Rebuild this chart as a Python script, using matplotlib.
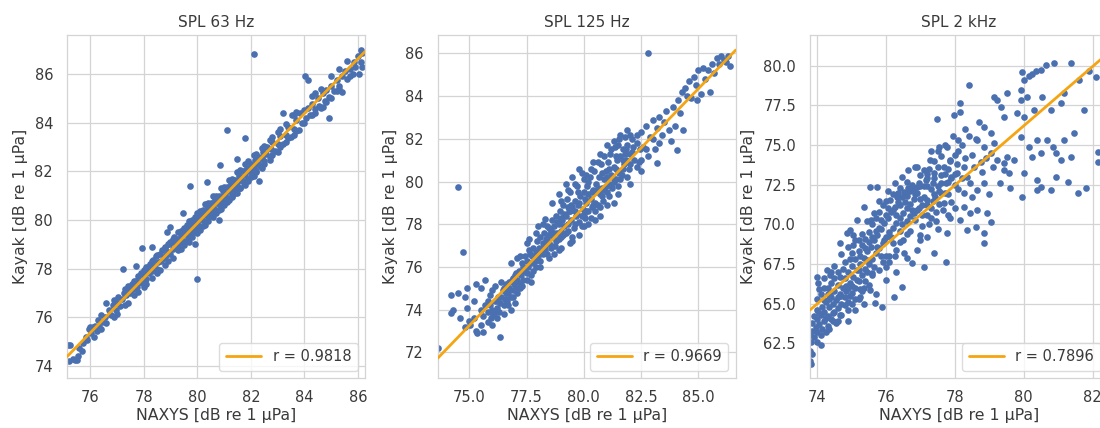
import numpy as np
import matplotlib
matplotlib.use("Agg")
import matplotlib.pyplot as plt
import seaborn as sns
from matplotlib.lines import Line2D

# --- data -------------------------------------------------------------------
titles = ["SPL 63 Hz", "SPL 125 Hz", "SPL 2 kHz"]
r_values = [0.9818, 0.9669, 0.7896]
fit_slope = [1.128, 1.109, 1.87]
fit_intercept = [-10.38, -9.92, -73.39]

pts_63 = [
    (75.18, 74.85), (75.22, 74.2), (75.25, 74.86), (75.35, 74.3), (75.45, 74.25), (75.5, 74.25),
    (75.55, 74.4), (75.6, 74.75), (75.7, 74.6), (75.75, 74.95), (75.85, 75.2), (75.9, 75.05),
    (75.95, 75.5), (76.0, 75.6), (76.05, 75.35), (76.1, 75.55), (76.12, 75.6), (76.15, 75.2),
    (76.2, 75.65), (76.25, 75.45), (76.3, 75.9), (76.35, 75.6), (76.45, 75.8), (76.55, 76.0),
    (76.6, 75.75), (76.7, 76.3), (76.8, 76.1), (76.85, 76.5), (76.95, 76.3), (77.0, 76.6),
    (77.1, 76.45), (77.2, 76.75), (77.24, 77.97), (77.25, 77.0), (77.35, 76.9), (77.45, 77.2),
    (77.5, 77.0), (77.55, 77.35), (77.6, 77.15), (77.7, 77.5), (77.75, 77.25), (77.8, 77.7),
    (77.85, 77.45), (77.9, 77.8), (77.93, 78.86), (77.95, 77.4), (78.0, 77.65), (78.05, 77.9),
    (78.1, 77.55), (78.15, 78.05), (78.2, 77.8), (78.25, 78.2), (78.3, 77.9), (78.35, 78.35),
    (78.4, 78.1), (78.45, 78.5), (78.5, 78.0), (78.55, 78.25), (78.6, 78.6), (78.65, 78.3),
    (78.7, 78.75), (78.75, 78.45), (78.8, 78.9), (78.85, 78.55), (78.86, 79.49), (78.9, 78.7),
    (78.95, 79.0), (79.0, 78.6), (79.05, 79.1), (79.1, 78.8), (79.15, 79.3), (79.2, 78.9),
    (79.25, 79.2), (79.3, 79.5), (79.35, 79.05), (79.4, 79.35), (79.45, 79.6), (79.48, 80.27),
    (79.5, 79.15), (79.55, 79.45), (79.6, 79.8), (79.65, 79.3), (79.7, 79.65), (79.73, 81.4),
    (79.75, 79.9), (79.8, 79.5), (79.85, 79.8), (79.9, 80.1), (79.95, 79.6), (80.0, 77.57),
    (80.0, 79.9), (80.05, 80.2), (80.1, 79.75), (80.15, 80.05), (80.2, 80.4), (80.25, 79.95),
    (80.3, 80.25), (80.35, 81.57), (80.35, 80.6), (80.4, 80.1), (80.45, 80.45), (80.5, 80.7),
    (80.55, 80.3), (80.6, 80.55), (80.65, 80.85), (80.7, 80.4), (80.75, 80.7), (80.8, 81.0),
    (80.85, 82.26), (80.85, 80.6), (80.9, 80.9), (80.95, 81.2), (81.0, 80.75), (81.05, 81.05),
    (81.1, 83.7), (81.1, 81.35), (81.15, 80.9), (81.2, 81.2), (81.25, 81.5), (81.3, 81.0),
    (81.35, 81.35), (81.4, 81.65), (81.45, 81.2), (81.5, 81.5), (81.55, 81.8), (81.6, 81.3),
    (81.65, 81.65), (81.7, 82.0), (81.75, 81.5), (81.78, 83.36), (81.8, 81.85), (81.85, 82.15),
    (81.9, 81.7), (81.95, 82.0), (82.0, 82.3), (82.05, 81.85), (82.1, 82.15), (82.13, 86.82),
    (82.15, 82.45), (82.2, 82.0), (82.25, 82.3), (82.3, 82.6), (82.35, 82.2), (82.4, 82.5),
    (82.45, 82.8), (82.5, 82.4), (82.55, 82.7), (82.6, 83.0), (82.7, 82.6), (82.75, 82.9),
    (82.8, 83.2), (82.9, 82.85), (83.0, 83.1), (83.1, 83.45), (83.2, 83.1), (83.3, 83.5),
    (83.4, 83.8), (83.5, 83.4), (83.55, 84.3), (83.6, 83.75), (83.7, 84.1), (83.8, 83.7),
    (83.85, 84.4), (83.9, 84.0), (84.0, 84.5), (84.02, 85.9), (84.05, 84.2), (84.15, 85.75),
    (84.15, 84.6), (84.2, 84.3), (84.3, 84.75), (84.4, 84.55), (84.5, 85.0), (84.55, 84.7),
    (84.7, 84.66), (84.7, 85.2), (84.75, 84.9), (84.8, 85.35), (84.9, 85.05), (85.0, 85.5),
    (85.1, 85.3), (85.2, 85.75), (85.3, 85.5), (85.4, 85.27), (85.4, 85.9), (85.5, 86.1),
    (85.6, 85.8), (85.7, 86.2), (85.8, 86.0), (85.85, 86.5), (85.9, 86.3), (86.0, 86.75),
    (86.05, 86.0), (86.1, 86.5), (86.15, 86.85),
    (79.2, 79.0), (79.4, 79.1), (79.6, 79.5), (79.8, 79.7), (80.0, 80.0), (80.2, 80.2),
    (80.4, 80.4), (80.6, 80.7), (80.8, 80.75), (81.0, 81.0), (81.2, 81.35), (81.4, 81.45),
    (81.6, 81.7), (81.8, 82.0), (82.0, 82.1), (82.2, 82.35), (82.4, 82.55), (80.1, 80.15),
    (80.5, 80.25), (80.9, 80.65), (81.3, 81.15), (81.7, 81.6), (82.1, 82.0), (79.9, 79.75),
    (76.4, 75.5), (76.4, 76.1), (76.9, 76.0), (76.9, 76.7), (77.4, 76.6), (77.4, 77.3),
    (77.65, 76.9), (77.65, 77.5), (78.1, 78.05), (78.1, 77.35), (78.5, 78.55), (78.5, 77.8),
    (78.8, 78.15), (78.8, 78.85), (79.1, 79.2), (79.1, 78.45), (79.4, 79.55), (79.4, 78.8),
    (79.7, 79.1), (79.7, 79.95), (80.0, 80.3), (80.0, 79.45), (80.3, 80.65), (80.3, 79.8),
    (80.6, 80.1), (80.6, 81.0), (80.9, 81.3), (80.9, 80.45), (81.2, 80.8), (81.2, 81.65),
    (81.5, 81.95), (81.5, 81.1), (81.8, 81.45), (81.8, 82.3), (82.1, 82.65), (82.1, 81.8),
    (82.4, 82.15), (82.4, 82.95), (82.7, 83.3), (82.7, 82.45), (83.0, 83.6), (83.0, 82.8),
    (83.3, 83.95), (83.3, 83.2), (83.6, 84.3), (83.6, 83.5), (84.3, 85.1), (84.3, 84.3),
    (84.6, 85.4), (84.6, 84.6), (85.0, 85.9), (85.0, 85.0), (85.3, 86.2), (85.3, 85.4),
    (85.7, 85.9), (86.1, 87.0), (86.15, 86.3),
    (77.0, 76.15), (77.05, 76.85), (77.3, 76.5), (77.3, 77.15), (77.8, 77.05), (78.0, 77.25),
    (78.0, 77.95), (78.3, 77.6), (78.3, 78.3), (78.6, 77.95), (78.9, 78.3), (78.9, 79.0),
    (79.0, 79.1), (79.3, 78.75), (79.3, 78.9), (79.5, 79.65), (79.5, 78.95), (79.8, 79.3),
    (79.8, 80.0), (80.1, 80.35), (80.1, 79.6), (80.2, 79.75), (80.4, 80.7), (80.4, 79.95),
    (80.7, 81.0), (80.7, 80.3), (80.8, 80.4), (81.0, 81.35), (81.0, 80.6), (81.1, 80.75),
    (81.3, 81.7), (81.3, 80.95), (81.4, 81.1), (81.6, 82.05), (81.6, 81.3), (81.9, 82.4),
    (81.9, 81.6), (82.0, 81.75), (82.2, 82.7), (82.2, 81.95), (82.5, 83.05), (82.5, 82.3),
    (82.8, 82.65), (82.8, 83.4), (83.1, 83.0), (83.1, 83.75), (83.4, 83.35), (83.7, 83.65),
    (83.7, 84.45), (84.0, 84.0), (84.4, 85.2), (84.4, 84.4), (84.8, 84.85), (85.2, 85.3),
    (85.6, 86.55), (78.3, 78.9), (79.0, 79.7), (79.9, 79.0), (80.8, 80.0), (81.5, 82.5),
    (82.3, 81.6), (83.2, 84.4), (84.9, 84.2), (77.7, 78.1), (76.6, 76.6),
]

pts_125 = [
    (73.65, 72.2), (74.2, 74.7), (74.2, 73.85), (74.3, 74.0), (74.5, 74.8), (74.52, 79.75),
    (74.74, 76.68), (74.8, 74.6), (74.9, 75.0), (74.9, 74.1), (75.0, 73.45), (75.05, 73.3),
    (75.2, 74.4), (75.3, 73.0), (75.35, 72.9), (75.5, 73.3), (75.6, 72.95), (75.6, 73.7),
    (75.7, 74.2), (75.8, 73.4), (75.8, 73.9), (75.9, 74.7), (75.95, 73.6), (76.0, 74.9),
    (76.0, 74.0), (76.05, 73.75), (76.1, 74.4), (76.15, 73.9), (76.2, 74.1), (76.2, 74.4),
    (76.25, 74.6), (76.34, 72.73), (76.3, 73.9), (76.35, 74.3), (76.4, 74.6), (76.45, 74.9),
    (76.5, 74.2), (76.55, 74.5), (76.6, 75.2), (76.6, 74.8), (76.65, 74.4), (76.7, 74.8),
    (76.75, 75.0), (76.8, 74.6), (76.85, 75.4), (76.9, 74.9), (76.95, 75.2), (77.0, 75.6),
    (77.0, 74.3), (77.0, 75.3), (77.05, 75.0), (77.1, 75.4), (77.15, 75.8), (77.2, 75.2),
    (77.25, 75.6), (77.3, 76.2), (77.35, 75.4), (77.4, 75.9), (77.4, 75.8), (77.45, 76.5),
    (77.5, 75.7), (77.55, 76.0), (77.6, 76.8), (77.65, 76.2), (77.7, 75.6), (77.75, 76.5),
    (77.8, 76.9), (77.8, 76.2), (77.85, 76.3), (77.9, 76.7), (77.95, 77.2), (78.0, 76.5),
    (78.05, 76.9), (78.1, 77.4), (78.15, 76.7), (78.2, 77.1), (78.2, 76.6), (78.25, 77.6),
    (78.3, 77.0), (78.3, 78.25), (78.35, 77.3), (78.4, 76.6), (78.4, 77.9), (78.45, 77.5),
    (78.5, 77.1), (78.55, 77.7), (78.6, 78.2), (78.6, 77.0), (78.65, 77.4), (78.7, 77.9),
    (78.75, 77.0), (78.8, 78.4), (78.8, 77.2), (78.85, 77.6), (78.9, 78.0), (78.95, 78.6),
    (79.0, 77.7), (79.0, 78.2), (79.0, 78.3), (79.05, 78.2), (79.1, 78.9), (79.15, 77.9),
    (79.2, 78.4), (79.2, 77.6), (79.25, 79.2), (79.3, 78.0), (79.35, 78.6), (79.4, 79.5),
    (79.4, 78.6), (79.45, 78.2), (79.5, 78.8), (79.55, 77.8), (79.6, 79.1), (79.6, 78.0),
    (79.65, 78.4), (79.7, 79.8), (79.75, 78.9), (79.8, 78.1), (79.8, 79.0), (79.85, 79.3),
    (79.9, 80.4), (79.95, 78.7), (80.0, 79.5), (80.0, 78.5), (80.05, 78.3), (80.1, 79.0),
    (80.15, 79.8), (80.2, 78.6), (80.2, 79.4), (80.25, 80.2), (80.3, 79.2), (80.35, 78.8),
    (80.4, 79.6), (80.4, 78.9), (80.45, 80.5), (80.5, 79.0), (80.55, 79.9), (80.6, 78.9),
    (80.6, 79.7), (80.65, 80.2), (80.7, 79.4), (80.75, 80.8), (80.8, 79.7), (80.8, 79.3),
    (80.85, 79.1), (80.9, 80.1), (80.95, 80.5), (81.0, 79.5), (81.0, 80.2), (81.05, 80.9),
    (81.1, 79.9), (81.15, 81.3), (81.2, 80.3), (81.2, 79.8), (81.25, 79.7), (81.3, 80.7),
    (81.35, 81.6), (81.4, 80.1), (81.4, 80.6), (81.45, 81.0), (81.5, 80.5), (81.55, 82.0),
    (81.6, 81.2), (81.6, 80.1), (81.65, 80.3), (81.7, 81.5), (81.75, 80.8), (81.8, 82.1),
    (81.8, 80.9), (81.85, 81.0), (81.9, 81.7), (81.95, 80.6), (82.0, 81.3), (82.1, 82.0),
    (82.2, 81.0), (82.3, 81.8), (82.4, 80.9), (82.5, 82.3), (82.6, 81.6), (82.7, 82.6),
    (82.8, 81.2), (82.82, 86.0), (82.9, 82.1), (83.0, 82.9), (83.1, 81.5), (83.18, 80.85),
    (83.2, 82.5), (83.3, 83.0), (83.4, 82.2), (83.5, 82.8), (83.6, 83.3), (83.7, 82.4),
    (83.8, 81.9), (83.9, 83.5), (84.0, 82.6), (84.06, 81.47), (84.1, 83.8), (84.2, 83.2),
    (84.3, 84.2), (84.35, 82.4), (84.4, 84.4), (84.5, 84.0), (84.6, 84.7), (84.7, 83.9),
    (84.8, 84.9), (84.9, 84.5), (84.93, 83.8), (85.0, 85.2), (85.1, 84.1), (85.2, 85.3),
    (85.3, 84.8), (85.4, 85.2), (85.5, 84.2), (85.6, 85.5), (85.7, 85.1), (85.8, 85.8),
    (85.9, 85.5), (86.0, 85.9), (86.1, 85.7), (86.2, 85.6), (86.3, 85.9), (86.4, 85.4),
    (76.5, 75.0), (76.7, 74.2), (76.9, 75.5), (77.1, 74.8), (77.3, 75.1), (77.5, 76.3),
    (77.7, 75.3), (77.9, 76.0), (78.1, 76.3), (78.3, 76.8), (78.5, 77.8), (78.7, 76.6),
    (78.9, 77.3), (79.1, 77.5), (79.3, 78.8), (79.5, 77.4), (79.7, 78.5), (79.9, 77.9),
    (80.1, 78.6), (80.3, 78.3), (80.5, 79.5), (80.7, 78.8), (80.9, 79.6), (81.1, 79.3),
    (81.3, 80.0), (81.5, 79.8), (81.7, 80.6), (81.9, 80.2), (82.1, 81.4), (82.3, 80.7),
    (82.5, 81.0), (82.7, 81.5), (83.0, 82.0), (83.3, 81.8), (79.0, 79.1), (79.3, 79.6),
    (79.6, 79.9), (80.0, 80.1), (80.3, 80.6), (80.6, 80.9), (80.9, 81.2), (81.2, 81.5),
    (81.5, 81.7), (81.8, 81.3), (82.0, 82.2), (78.0, 77.9), (77.6, 77.3), (77.2, 76.5),
    (76.8, 76.2), (76.4, 75.3), (76.1, 75.1), (75.8, 74.4), (75.5, 74.0), (75.2, 73.6),
    (74.8, 73.2), (74.6, 73.6), (75.5, 75.0), (75.3, 75.2), (75.7, 75.4), (80.2, 78.0),
    (80.7, 78.4), (81.3, 79.0), (79.4, 77.1), (78.9, 76.8), (79.8, 77.5),
    (76.6, 74.5), (76.75, 75.3), (76.9, 74.6), (77.05, 75.7), (77.2, 75.0), (77.35, 76.0),
    (77.5, 75.4), (77.65, 76.6), (77.8, 75.8), (77.95, 76.6), (78.1, 76.0), (78.25, 77.0),
    (78.4, 77.3), (78.55, 76.9), (78.7, 77.6), (78.85, 78.1), (79.0, 77.4), (79.15, 78.5),
    (79.3, 77.7), (79.45, 78.9), (79.6, 78.6), (79.75, 79.5), (79.9, 78.4), (80.05, 79.2),
    (80.2, 80.0), (80.35, 79.5), (80.5, 78.6), (80.65, 79.5), (80.8, 80.4), (80.95, 79.8),
    (81.1, 80.6), (81.25, 80.2), (81.4, 81.2), (81.55, 80.4), (81.7, 81.0), (81.85, 81.5),
    (82.0, 80.8), (82.15, 81.6), (82.3, 82.2), (82.45, 81.5), (79.2, 79.9), (79.5, 80.2),
    (79.8, 80.6), (80.1, 80.3), (78.6, 79.0), (78.9, 79.4), (80.4, 80.9), (80.7, 81.3),
    (81.0, 81.7), (81.3, 81.9), (81.6, 82.2), (81.9, 82.4), (78.2, 78.0), (77.9, 77.6),
    (77.5, 77.1), (77.1, 76.4), (80.0, 77.9), (80.5, 78.2), (81.0, 78.9), (81.5, 79.4),
    (82.0, 79.9), (82.5, 80.5), (79.5, 77.2), (79.0, 76.9), (78.5, 76.4), (76.0, 73.3),
    (76.2, 73.6), (75.9, 74.2), (76.5, 73.8), (76.8, 74.0),
]

pts_2k = [
    (79.96, 79.62), (80.01, 79.1), (80.16, 79.35), (80.25, 79.5), (80.35, 79.68), (80.5, 79.73),
    (80.64, 80.04), (80.88, 80.2), (81.37, 80.15), (81.61, 79.1), (79.91, 78.47), (80.11, 78.05),
    (79.91, 77.84), (81.08, 77.63), (81.18, 78.26), (81.76, 77.2), (80.54, 78.05), (80.79, 77.2),
    (80.3, 77.2), (80.01, 76.78), (79.82, 76.99), (79.23, 77.84), (79.13, 78.05), (79.33, 77.41),
    (79.52, 78.26), (79.43, 76.78), (78.41, 78.78), (78.16, 77.63), (78.16, 77.1), (77.97, 76.89),
    (78.84, 76.15), (78.7, 76.47), (79.04, 75.73), (78.65, 75.31), (78.84, 74.89), (79.13, 75.1),
    (79.04, 74.47), (79.23, 74.05), (79.43, 73.84), (79.52, 74.26), (79.43, 73.42), (79.57, 73.21),
    (79.72, 74.05), (79.91, 75.52), (80.16, 74.89), (80.4, 75.31), (80.5, 74.47), (80.69, 75.31),
    (80.84, 74.89), (80.93, 74.47), (81.08, 74.05), (81.18, 75.31), (81.37, 74.26), (81.47, 75.73),
    (80.25, 74.26), (80.01, 73.21), (79.96, 71.74), (80.4, 72.79), (80.5, 72.37), (80.79, 72.16),
    (80.93, 73.0), (81.28, 72.69), (81.57, 71.95), (81.81, 72.27), (82.15, 73.95), (82.15, 74.58),
    (80.4, 72.16), (81.9, 79.7), (82.1, 79.3),
    (77.48, 76.62), (77.77, 74.89), (77.53, 74.89), (76.9, 73.63), (77.19, 71.53), (77.43, 71.74),
    (77.68, 71.32), (77.87, 70.37), (78.26, 71.11), (78.45, 70.69), (78.65, 70.9), (78.94, 70.69),
    (79.04, 70.16), (78.84, 69.43), (78.6, 69.85), (78.36, 69.64), (78.16, 70.27), (77.77, 69.43),
    (77.73, 67.64), (78.26, 71.95), (78.45, 72.58), (78.65, 72.16), (78.84, 72.58), (78.07, 73.21),
    (78.26, 73.63), (77.87, 74.05), (77.68, 73.63), (77.39, 73.21), (77.29, 74.05), (77.1, 73.42),
    (78.84, 68.8), (76.46, 66.07), (76.22, 65.44), (75.88, 64.8), (75.68, 65.01), (76.75, 67.54),
    (76.51, 68.17), (77.39, 68.17), (77.1, 67.33), (76.9, 72.37), (76.51, 72.06), (76.32, 71.74),
    (76.12, 71.53), (75.73, 72.37), (75.54, 72.37), (75.35, 71.11), (75.15, 70.27), (74.96, 69.64),
    (74.86, 69.43), (74.66, 68.8), (74.28, 67.12), (74.03, 66.28), (74.37, 65.65), (75.25, 65.44),
    (75.54, 65.86), (75.44, 67.75), (74.37, 66.8), (77.0, 69.0), (77.3, 70.4), (77.6, 72.6),
    (77.9, 72.9), (78.1, 72.2), (77.2, 72.9), (76.9, 70.9),
    (73.8, 61.4), (73.8, 62.0), (73.82, 62.6), (73.85, 63.3), (73.85, 63.8), (73.9, 62.9),
    (73.9, 64.2), (73.95, 63.5), (74.0, 64.0), (74.0, 63.2), (74.0, 64.6), (74.05, 63.7),
    (74.1, 64.3), (74.1, 63.0), (74.15, 64.8), (74.2, 63.9), (74.2, 64.5), (74.25, 65.1),
    (74.3, 64.2), (74.3, 63.6), (74.35, 64.8), (74.4, 65.4), (74.4, 64.0), (74.45, 65.0),
    (74.5, 64.5), (74.5, 65.8), (74.55, 65.2), (74.6, 64.7), (74.6, 66.2), (74.65, 65.6),
    (74.7, 65.0), (74.75, 66.0), (74.8, 65.4), (74.8, 66.6), (74.85, 65.8), (74.9, 65.1),
    (74.9, 67.0), (74.95, 66.3), (75.0, 65.7), (75.0, 67.4), (75.05, 66.7), (75.1, 66.0),
    (75.1, 67.8), (75.15, 67.1), (75.2, 66.4), (75.2, 68.3), (75.25, 67.5), (75.3, 66.8),
    (75.3, 68.7), (75.35, 67.9), (75.4, 67.2), (75.4, 69.1), (75.45, 68.3), (75.5, 67.5),
    (75.5, 69.5), (75.55, 68.6), (75.6, 67.8), (75.6, 70.0), (75.65, 69.0), (75.7, 68.2),
    (75.7, 70.4), (75.75, 69.3), (75.8, 68.5), (75.8, 70.8), (75.85, 69.7), (75.9, 68.8),
    (75.9, 71.2), (75.95, 70.1), (76.0, 69.2), (76.0, 71.5), (76.05, 70.4), (76.1, 69.5),
    (76.1, 67.6), (76.15, 70.8), (76.2, 69.8), (76.2, 71.9), (76.25, 71.1), (76.3, 70.1),
    (76.3, 68.4), (76.35, 71.4), (76.4, 70.4), (76.4, 72.3), (76.45, 71.7), (76.5, 70.7),
    (76.5, 69.0), (76.55, 72.0), (76.6, 71.0), (76.6, 72.7), (76.65, 72.3), (76.7, 71.3),
    (76.7, 69.6), (76.75, 72.5), (76.8, 71.6), (76.85, 70.3), (76.9, 72.0), (76.95, 71.0),
    (77.0, 72.4), (77.05, 70.6), (77.1, 71.7), (77.15, 72.8), (77.2, 71.2), (77.25, 70.0),
    (77.3, 72.2), (77.35, 71.5), (77.4, 72.9), (77.45, 70.8), (77.5, 72.4), (77.55, 71.3),
    (77.6, 73.1), (77.7, 72.0), (77.8, 72.7), (77.9, 71.4), (78.0, 73.2),
    (74.3, 65.6), (74.6, 63.9), (74.9, 64.6), (75.2, 65.3), (75.5, 66.2), (75.8, 67.1),
    (76.1, 68.0), (76.4, 68.9), (76.7, 70.5), (77.0, 69.3), (74.2, 66.6), (73.98, 66.7),
    (73.82, 61.2), (73.85, 61.8), (73.8, 63.0), (74.1, 62.4), (74.0, 62.6), (74.25, 63.2),
    (74.45, 63.9), (74.7, 64.3), (75.0, 65.0), (75.3, 65.8), (75.6, 66.8), (75.9, 67.6),
    (74.0, 65.3), (74.05, 64.4), (74.1, 65.6), (74.2, 65.2), (74.25, 64.1), (74.3, 66.0),
    (74.4, 66.3), (74.45, 64.4), (74.6, 65.4), (74.6, 67.0), (74.65, 64.3), (74.8, 67.6),
    (74.8, 64.9), (74.85, 66.1), (75.0, 68.2), (75.0, 66.1), (75.05, 69.3), (75.2, 69.0),
    (75.2, 67.1), (75.25, 65.9), (75.4, 68.5), (75.4, 66.4), (75.45, 70.2), (75.6, 69.2),
    (75.6, 66.9), (75.65, 70.7), (75.8, 69.8), (75.8, 71.5), (75.85, 68.0), (76.0, 70.6),
    (76.0, 68.0), (76.05, 72.1), (76.2, 70.9), (76.2, 68.8), (76.25, 72.6), (76.4, 71.2),
    (76.4, 69.6), (76.45, 73.0), (76.6, 70.2), (76.6, 71.8), (76.65, 73.4), (76.8, 72.2),
    (76.8, 70.7), (76.85, 73.6), (77.0, 71.6), (77.0, 73.1), (77.05, 69.9), (77.2, 72.4),
    (77.2, 70.6), (77.25, 73.5), (77.4, 71.9), (77.4, 74.0), (77.45, 70.2), (77.6, 72.0),
    (77.6, 74.3), (77.65, 70.9), (77.8, 73.5), (77.8, 71.9), (78.0, 72.5), (78.0, 74.4),
    (78.2, 72.9), (78.2, 75.0), (74.5, 67.4), (74.7, 68.1), (74.9, 68.6), (75.1, 69.0),
    (74.4, 67.0),
    (74.05, 65.9), (74.15, 63.4), (74.2, 66.0), (74.35, 63.4), (74.35, 65.3), (74.5, 66.6),
    (74.55, 63.8), (74.65, 66.7), (74.7, 65.5), (74.75, 67.2), (74.9, 66.0), (74.95, 65.5),
    (74.95, 67.8), (75.05, 68.7), (75.1, 65.3), (75.15, 66.5), (75.25, 68.0), (75.3, 69.4),
    (75.35, 66.0), (75.45, 67.0), (75.5, 68.9), (75.55, 70.3), (75.65, 67.3), (75.7, 69.6),
    (75.75, 68.6), (75.85, 70.3), (75.95, 69.0), (76.0, 67.3), (76.05, 71.0), (76.15, 69.2),
    (76.25, 68.0), (76.3, 70.6), (76.35, 72.0), (76.45, 70.0), (76.55, 71.4), (76.6, 69.4),
    (76.7, 72.1), (76.75, 70.9), (76.85, 71.9), (76.95, 72.6), (77.05, 71.2), (77.1, 72.4),
    (77.2, 73.2), (77.3, 71.0), (77.35, 72.6), (77.5, 73.6), (77.55, 72.1), (77.7, 73.2),
    (77.75, 72.6), (77.85, 74.0), (77.9, 73.0), (78.05, 73.8), (78.1, 74.6), (78.3, 74.2),
    (78.35, 73.0), (78.5, 74.4), (78.55, 73.6), (78.6, 75.4), (78.75, 73.9), (78.9, 74.2),
    (78.4, 75.6), (78.3, 76.0), (78.1, 75.3), (77.95, 75.6), (77.7, 75.0), (77.5, 74.6),
    (77.3, 74.6), (75.1, 64.6), (74.9, 63.9), (75.35, 65.0), (75.7, 65.6), (76.0, 66.5),
    (76.3, 67.0), (76.6, 67.9), (76.9, 68.4), (77.2, 69.2), (77.5, 69.7), (77.8, 70.6),
    (78.0, 71.0), (78.5, 71.7), (79.0, 71.9), (79.3, 72.6), (79.6, 72.3), (78.8, 73.3),
    (79.1, 73.6),
]

point_sets = [pts_63, pts_125, pts_2k]

xlims = [(75.14, 86.26), (73.62, 86.63), (73.79, 82.45)]
ylims = [(73.5, 87.6), (70.8, 86.86), (60.31, 81.94)]
xticks = [np.arange(76, 87, 2), np.arange(75, 86, 2.5), np.arange(74, 83, 2)]
yticks = [np.arange(74, 87, 2), np.arange(72, 87, 2), np.arange(62.5, 80.1, 2.5)]
xfmt = ["{:.0f}", "{:.1f}", "{:.0f}"]
yfmt = ["{:.0f}", "{:.0f}", "{:.1f}"]

# --- style ------------------------------------------------------------------
sns.set_style("whitegrid")
plt.rcParams["font.family"] = ["DejaVu Sans"]
text_color = "#3a3a3a"
point_color = "#4a70b0"
line_color = "#f5a511"

fig = plt.figure(figsize=(11.0, 4.28), dpi=100)
W, H = 1100.0, 428.0
lefts = [67, 437.7, 810]
width_px = 298
bottom_px, top_px = 378, 35

for i in range(3):
    ax = fig.add_axes([lefts[i] / W, (H - bottom_px) / H, width_px / W, (bottom_px - top_px) / H])
    xs, ys = zip(*point_sets[i])
    ax.scatter(xs, ys, s=23, color=point_color, linewidths=0, zorder=2)

    x0, x1 = xlims[i]
    lx = np.array([x0, x1])
    ly = fit_intercept[i] + fit_slope[i] * lx
    ax.plot(lx, ly, color=line_color, lw=2.0, zorder=3)

    ax.set_xlim(x0, x1)
    ax.set_ylim(*ylims[i])
    ax.set_xticks(xticks[i])
    ax.set_xticklabels([xfmt[i].format(v) for v in xticks[i]])
    ax.set_yticks(yticks[i])
    ax.set_yticklabels([yfmt[i].format(v) for v in yticks[i]])
    ax.tick_params(labelsize=10.5, colors=text_color, length=0)
    ax.tick_params(axis="x", pad=9)
    ax.tick_params(axis="y", pad=10)
    ax.grid(True, color="#d4d4d4", lw=0.9)
    for sp in ax.spines.values():
        sp.set_color("#d4d4d4")
        sp.set_linewidth(0.9)

    ax.set_title(titles[i], fontsize=11, color=text_color, pad=6)
    ax.set_xlabel("NAXYS [dB re 1 μPa]", fontsize=11.3, color=text_color, labelpad=2)
    ax.set_ylabel("Kayak [dB re 1 μPa]", fontsize=11.3, color=text_color, labelpad=5)

    handle = Line2D([], [], color=line_color, lw=2.0)
    leg = ax.legend([handle], [f"r = {r_values[i]:.4f}"], loc="lower right",
                    fontsize=10.5, frameon=True, handlelength=2.4, borderpad=0.45)
    leg.get_frame().set_edgecolor("#d4d4d4")
    for t in leg.get_texts():
        t.set_color(text_color)

fig.savefig("out.png", dpi=100)
